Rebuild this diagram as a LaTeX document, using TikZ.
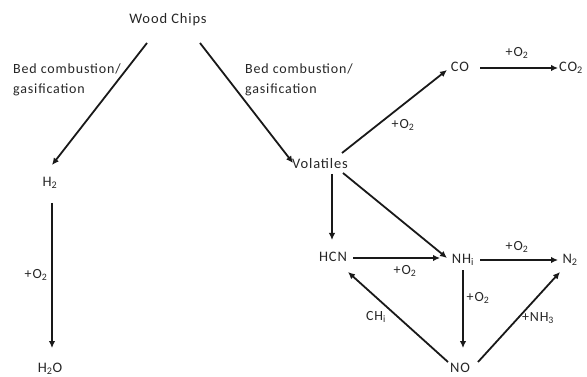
\documentclass[tikz,border=0pt]{standalone}
\usepackage{fontspec}
\setmainfont{Carlito}[LetterSpace=6]
\usetikzlibrary{arrows.meta}
\tikzset{
  species/.style={inner sep=0pt, font=\fontsize{14.5}{17}\selectfont, text=black!85},
  lbl/.style={inner sep=0pt, font=\fontsize{14}{20}\selectfont, text=black!85},
  arr/.style={line width=1.8pt, -{Latex[length=7pt,width=6.5pt]}, black!90}
}
\newcommand{\otwo}{+O\textsubscript{2}}
\begin{document}
\begin{tikzpicture}[x=1pt,y=-1pt]
\useasboundingbox (0,0) rectangle (587,377);

% species
\node[species] (wood) at (168,20)  {Wood Chips};
\node[species] (h2)   at (50,183)  {H\textsubscript{2}};
\node[species] (h2o)  at (50,369)  {H\textsubscript{2}O};
\node[species] (vol)  at (320,164) {Volatiles};
\node[species] (co)   at (460,67)  {CO};
\node[species] (co2)  at (571,68)  {CO\textsubscript{2}};
\node[species] (hcn)  at (333,257) {HCN};
\node[species] (nh)   at (463,260) {NH\textsubscript{i}};
\node[species] (n2)   at (570,260) {N\textsubscript{2}};
\node[species] (no)   at (460,368) {NO};

% reaction paths
\draw[arr] ([shift={(-21,23)}]wood.center) -- ([shift={(2,-18)}]h2.center);
\draw[arr] ([shift={(32,23)}]wood.center)  -- ([shift={(-27,-1)}]vol.center);
\draw[arr] ([shift={(2,20)}]h2.center)     -- ([shift={(2,-21)}]h2o.center);
\draw[arr] ([shift={(22,-11)}]vol.center)  -- ([shift={(-13,3)}]co.center);
\draw[arr] ([shift={(20,1)}]co.center)     -- ([shift={(-13,0)}]co2.center);
\draw[arr] ([shift={(12,10)}]vol.center)   -- ([shift={(-1,-17)}]hcn.center);
\draw[arr] ([shift={(23,9)}]vol.center)    -- ([shift={(-16,-2)}]nh.center);
\draw[arr] ([shift={(20,1)}]hcn.center)    -- ([shift={(-23,-2)}]nh.center);
\draw[arr] ([shift={(17,0)}]nh.center)     -- ([shift={(-12,0)}]n2.center);
\draw[arr] ([shift={(0,10)}]nh.center)     -- ([shift={(3,-20)}]no.center);
\draw[arr] ([shift={(-12,-6)}]no.center)   -- ([shift={(15,15)}]hcn.center);
\draw[arr] ([shift={(18,-6)}]no.center)    -- ([shift={(-10,12)}]n2.center);

% path labels
\node[lbl, anchor=west, align=left] (bedl) at (13,80)  {Bed combustion/\\gasification};
\node[lbl, anchor=west, align=left] (bedr) at (245,80) {Bed combustion/\\gasification};
\node[lbl] (lh2)  at (36,275)  {\otwo};
\node[lbl] (lco)  at (403,125) {\otwo};
\node[lbl] (lco2) at (517,53)  {\otwo};
\node[lbl] (lhcn) at (405,271) {\otwo};
\node[lbl] (ln2)  at (517,247) {\otwo};
\node[lbl] (lno)  at (478,298) {\otwo};
\node[lbl] (lch)  at (376,317) {CH\textsubscript{i}};
\node[lbl] (lnh3) at (538,318) {+NH\textsubscript{3}};
\end{tikzpicture}
\end{document}
